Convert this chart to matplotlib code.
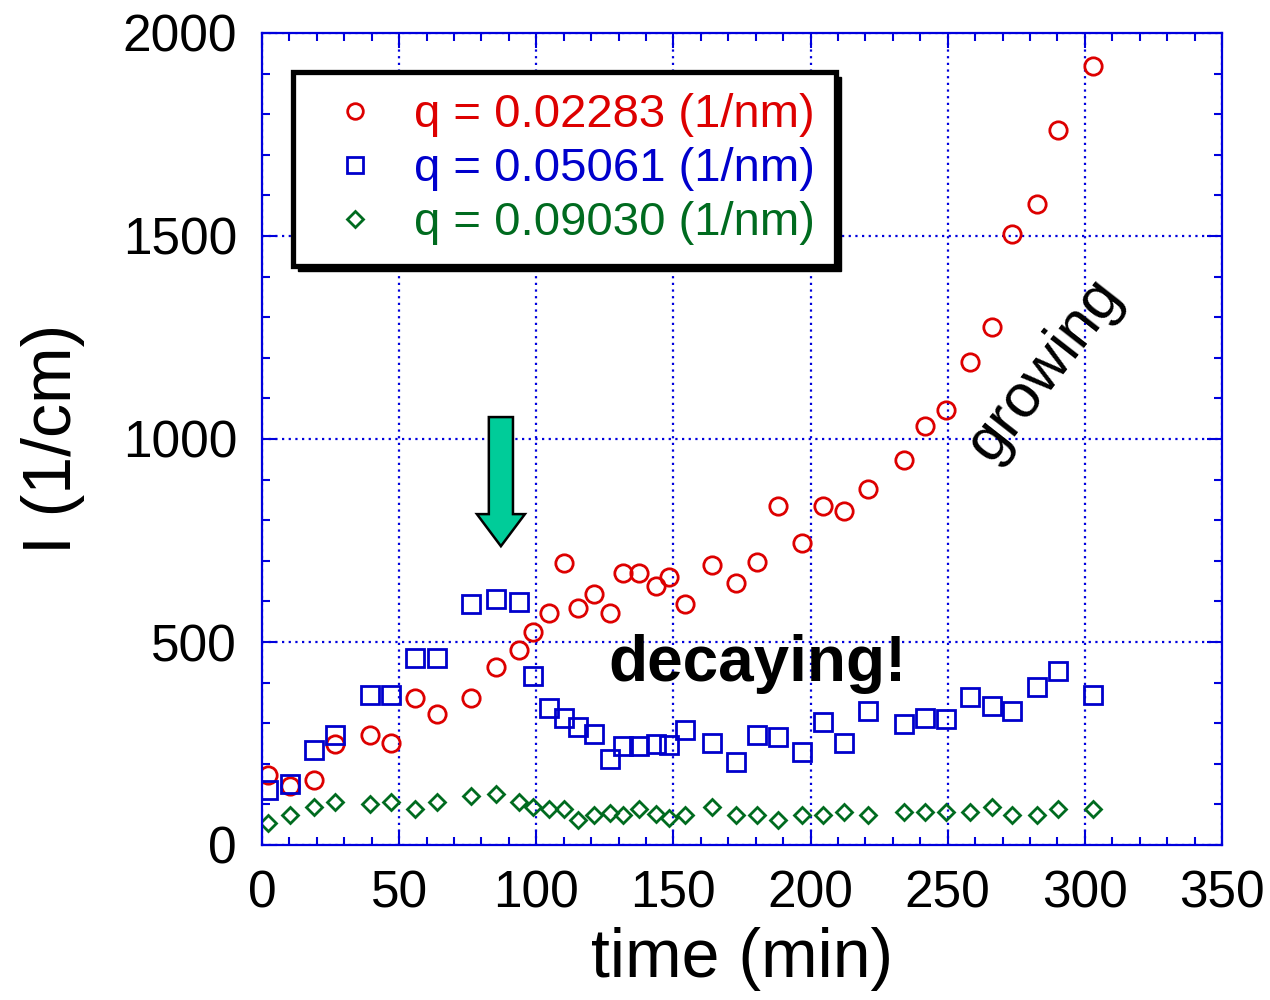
import matplotlib
matplotlib.use('Agg')
import matplotlib.pyplot as plt
import matplotlib.patches as mpatches
from matplotlib.ticker import MultipleLocator

plt.rcParams['font.family'] = ['Liberation Sans', 'DejaVu Sans']

# time (min) shared by all three q values
time_min = [2.2, 10.2, 19.0, 26.6, 39.4, 47.0, 55.8, 63.8, 76.2, 85.3, 93.7, 98.8,
            104.6, 110.1, 115.2, 121.0, 126.9, 131.6, 137.4, 143.6, 148.4, 154.2,
            164.1, 172.8, 180.5, 188.1, 196.9, 204.5, 212.2, 220.9, 234.1, 241.7,
            249.4, 258.1, 266.1, 273.4, 282.5, 290.2, 303.0]

# scattered intensity I (1/cm)
I_q1 = [172, 145, 160, 249, 271, 251, 362, 323, 362, 438, 480, 525,
        571, 695, 584, 618, 571, 670, 670, 638, 660, 594,
        690, 645, 697, 835, 744, 835, 823, 877, 948, 1032,
        1071, 1190, 1276, 1505, 1579, 1761, 1919]
I_q2 = [135, 150, 234, 271, 369, 369, 461, 461, 594, 606, 599, 416,
        337, 313, 291, 273, 212, 244, 244, 249, 246, 283,
        251, 204, 271, 266, 229, 303, 251, 330, 298, 313,
        310, 365, 342, 330, 389, 429, 369]
I_q3 = [54, 74, 94, 106, 101, 106, 89, 106, 121, 126, 106, 94,
        89, 89, 62, 74, 79, 74, 89, 76, 67, 74,
        94, 74, 74, 62, 74, 74, 81, 74, 81, 81,
        81, 81, 94, 74, 74, 89, 89]

labels = ['q = 0.02283 (1/nm)', 'q = 0.05061 (1/nm)', 'q = 0.09030 (1/nm)']
RED, BLUE, GREEN = '#dd0000', '#0000cc', '#006b1f'
AXIS_BLUE = '#0000dd'

fig = plt.figure(figsize=(12.7, 10), dpi=100)
ax = fig.add_axes([0.2063, 0.155, 0.7559, 0.812])

ax.plot(time_min, I_q1, 'o', ms=12.5, mfc='none', mec=RED, mew=2, label=labels[0])
ax.plot(time_min, I_q2, 's', ms=12.5, mfc='none', mec=BLUE, mew=2, label=labels[1])
ax.plot(time_min, I_q3, 'D', ms=8.5, mfc='none', mec=GREEN, mew=2, label=labels[2])

ax.set_xlim(0, 350)
ax.set_ylim(0, 2000)
ax.xaxis.set_major_locator(MultipleLocator(50))
ax.xaxis.set_minor_locator(MultipleLocator(10))
ax.yaxis.set_major_locator(MultipleLocator(500))
ax.yaxis.set_minor_locator(MultipleLocator(100))
ax.grid(True, which='major', color=AXIS_BLUE, linestyle=(0, (1, 2)), linewidth=1.6)
ax.tick_params(which='both', direction='in', top=True, right=True,
               color=AXIS_BLUE, width=1.5, labelsize=37, pad=18)
ax.tick_params(which='major', length=11)
ax.tick_params(which='minor', length=6)
for sp in ax.spines.values():
    sp.set_color(AXIS_BLUE)
    sp.set_linewidth(1.6)

ax.set_xlabel('time (min)', fontsize=49, labelpad=6)
ax.set_ylabel('I (1/cm)', fontsize=49, labelpad=27)

leg = ax.legend(loc='upper left', bbox_to_anchor=(0.032, 0.952), borderaxespad=0,
                fontsize=34, fancybox=False, edgecolor='black', framealpha=1,
                shadow=False, numpoints=1, markerscale=0.9,
                handlelength=1.75, handletextpad=0.36, borderpad=0.45, labelspacing=0.21)
leg.get_frame().set_linewidth(3.8)
for txt, col in zip(leg.get_texts(), [RED, BLUE, GREEN]):
    txt.set_color(col)

# solid drop shadow under the legend box
fig.canvas.draw()
bb = leg.get_frame().get_window_extent().translated(5, -5)
(x0, y0), (x1, y1) = ax.transAxes.inverted().transform([[bb.x0, bb.y0], [bb.x1, bb.y1]])
ax.add_patch(mpatches.Rectangle((x0, y0), x1 - x0, y1 - y0, transform=ax.transAxes,
                                facecolor='black', edgecolor='black', zorder=4.9))

# onset marker
arrow = mpatches.FancyArrow(87.1, 1054, 0, -318, width=8.8, head_width=17.5,
                            head_length=79, length_includes_head=True,
                            facecolor='#00cc99', edgecolor='black', linewidth=1.8, zorder=5)
ax.add_patch(arrow)

ax.text(180.5, 446, 'decaying!', fontsize=46, fontweight='bold', ha='center', va='center')
ax.text(285.5, 1170, 'growing', fontsize=44, rotation=52, ha='center', va='center',
        rotation_mode='anchor')

fig.savefig('out.png', dpi=100)
